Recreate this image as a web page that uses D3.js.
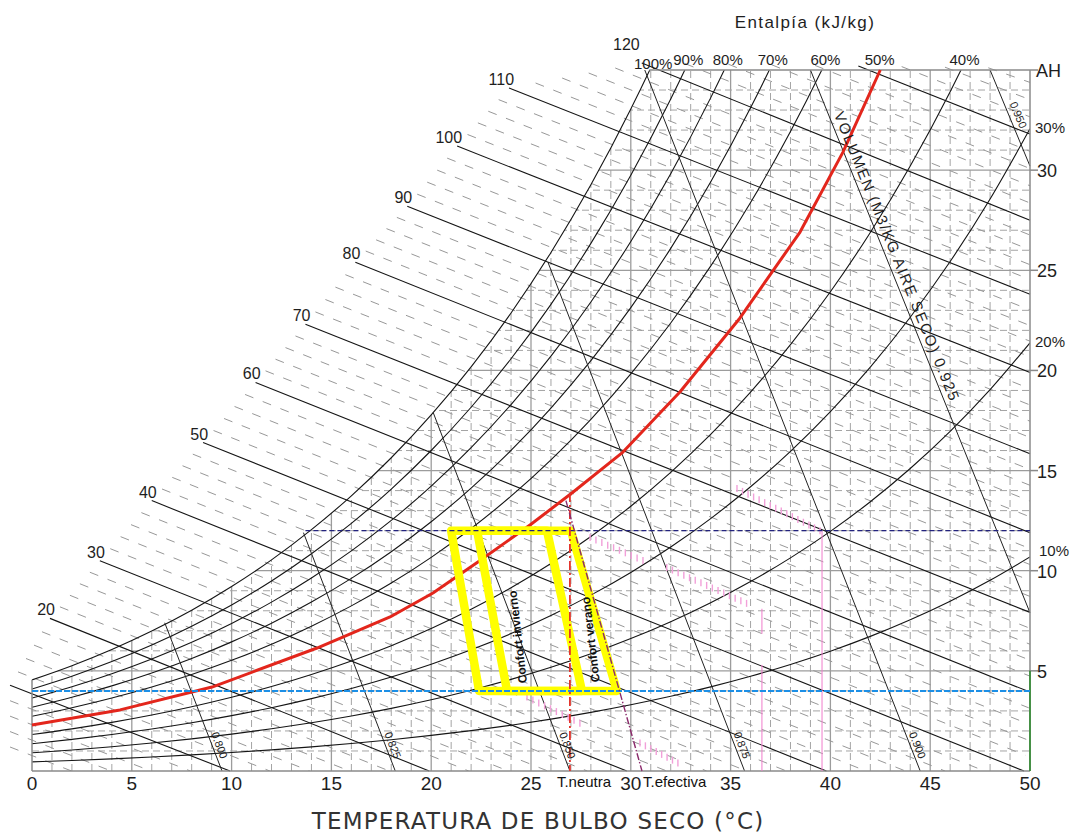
<!DOCTYPE html>
<html lang="es">
<head>
<meta charset="utf-8">
<title>Diagrama psicrométrico</title>
<script src="https://cdn.jsdelivr.net/npm/d3@7/dist/d3.min.js"></script>
<style>
  html,body{margin:0;padding:0;background:#fff;}
  svg{display:block;}
  .cad{font-family:"Liberation Sans",Arial,sans-serif;fill:#1e1e1e;}
</style>
</head>
<body>
<svg id="chart" width="1071" height="833"></svg>
<script>
// ---------- Chart values ----------
// Dry-bulb temperature axis (°C) and absolute humidity axis (g/kg)
const tempTicks = [0, 5, 10, 15, 20, 25, 30, 35, 40, 45, 50];
const ahTicks = [5, 10, 15, 20, 25, 30];

// Saturation absolute humidity (g/kg) along the dry-bulb scale
const satTemps = [0, 2, 4, 6, 8, 10, 12, 14, 16, 18, 20, 22, 24, 26, 28, 30, 32, 34, 36, 38, 40, 42, 44, 46, 48, 50];
const satAH = [4.55, 5.26, 6.07, 6.99, 8.03, 9.21, 10.54, 12.05, 13.74, 15.64, 17.78, 20.18, 22.87, 25.89, 29.27, 33.05, 37.28, 42.01, 47.30, 53.21, 59.82, 67.22, 75.51, 84.79, 95.21, 106.90];

// Relative humidity curves (%); the 50 % curve is drawn by the highlighted trace
const rhLevels = [10, 20, 30, 40, 50, 60, 70, 80, 90, 100];
const rhHighlighted = 50;
const rhTopLabels = [100, 90, 80, 70, 60, 50, 40];
const rhSideLabels = [30, 20, 10];

// Enthalpy lines (kJ/kg): start and end points as [°C, g/kg]
const enthalpyValues = [10, 20, 30, 40, 50, 60, 70, 80, 90, 100, 110, 120, 130];
const enthalpyStart = [[-1.1, 4.28], [0.9, 7.62], [3.4, 10.5], [6.0, 13.5], [8.57, 16.4], [11.2, 19.4], [13.7, 22.3], [16.2, 25.4], [18.8, 28.2], [21.3, 31.2], [23.9, 34.1], [30.55, 35.35], [41.4, 35.2]];
const enthalpyEnd = [[9.92, 0], [19.9, 0], [29.8, 0], [39.8, 0], [49.7, 0], [50, 3.94], [50, 7.92], [50, 11.9], [50, 15.84], [50, 19.9], [50, 23.8], [50, 27.5], [50, 31.8]];
const enthalpyLabels = [20, 30, 40, 50, 60, 70, 80, 90, 100, 110, 120];

// Specific volume lines (m3/kg dry air): top and bottom points as [°C, g/kg]
const volumeLabels = ["0.800", "0.825", "0.850", "0.875", "0.900", "VOLUMEN (M3/KG AIRE SECO) 0.925", "0.950"];
const volumeTop = [[6.65, 7.4], [13.6, 11.9], [20.1, 17.9], [25.85, 25.4], [30.7, 35], [39.0, 35], [48.0, 35]];
const volumeBottom = [[9.52, 0], [18.2, 0], [26.95, 0], [35.7, 0], [44.5, 0], [50, 7.9], [50, 30.2]];

// Highlighted 50 % curve
const rh50Trace = [[0, 2.30], [4.41, 3.05], [9.02, 4.19], [14.28, 6.14], [17.94, 7.69], [20.09, 8.89], [22.34, 10.43], [24.95, 12.28], [27.05, 13.88], [29.56, 15.88], [32.46, 18.92], [35.47, 22.62], [38.48, 26.91], [40.63, 30.9], [42.5, 35.0]];

// Comfort zones (winter and summer)
const winterZone = [[21.0, 12], [25.8, 12], [27.55, 4], [22.4, 4]];
const summerZone = [[22.3, 12], [27.0, 12], [29.3, 4], [23.8, 4]];
const winterLabelAt = [24.8, 4.4];
const summerLabelAt = [28.45, 4.45];

// Humidity limits
const upperLimit = [[13.7, 12], [50, 12]];
const lowerLimit = [[0, 4], [50, 4]];
const greenEdge = [[50, 0], [50, 5]];

// Neutral temperature and effective temperature lines
const neutralLine = [[26.95, 13.88], [26.95, 0]];
const effectiveLine = [[26.75, 13.5], [30.56, 0]];

// Pink hatch traces and verticals
const pinkTraces = [
  [[24.8, 3.69], [27.45, 2.39]],
  [[27.96, 11.66], [30.61, 10.51]],
  [[31.8, 10.16], [35.8, 8.37]],
  [[35.32, 14.1], [39.48, 12.0]],
  [[30.46, 1.4], [32.36, 0.4]]
];
const pinkVerticals = [[[36.57, 8.1], [36.57, 6.85]], [[36.57, 5.3], [36.57, 0]], [[39.58, 12.0], [39.58, 0]]];

// ---------- Scales ----------
const x = d3.scaleLinear().domain([0, 50]).range([32, 1030]);
const y = d3.scaleLinear().domain([0, 35]).range([771, 70]);
const px = d => [x(d[0]), y(d[1])];
const lerp = (a, b, t) => [a[0] + (b[0] - a[0]) * t, a[1] + (b[1] - a[1]) * t];

const svg = d3.select("#chart");
const defs = svg.append("defs");

const satPoints = satTemps.map((t, i) => [t, satAH[i]]);
const smooth = d3.line().x(d => x(d[0])).y(d => y(d[1])).curve(d3.curveMonotoneX);
const straight = d3.line().x(d => x(d[0])).y(d => y(d[1]));

// temperature at which a relative-humidity curve reaches a given humidity
function crossTemp(frac, w) {
  for (let i = 0; i < satTemps.length - 1; i++) {
    const a = frac * satAH[i], b = frac * satAH[i + 1];
    if (a <= w && b >= w) return satTemps[i] + (satTemps[i + 1] - satTemps[i]) * (w - a) / (b - a);
  }
  return 50;
}

// ---------- Clip regions ----------
defs.append("clipPath").attr("id", "plotClip")
  .append("rect").attr("x", x(0)).attr("y", y(35)).attr("width", x(50) - x(0)).attr("height", y(0) - y(35));
defs.append("clipPath").attr("id", "satClip")
  .append("path").attr("d", smooth(satPoints) + `L${x(50)},${y(0)}L${x(0)},${y(0)}Z`);
defs.append("clipPath").attr("id", "dashClip")
  .append("rect").attr("x", 6).attr("y", 58).attr("width", x(50) - 6).attr("height", y(0) - 58);

// ---------- Grid under the saturation curve ----------
const grid = svg.append("g").attr("clip-path", "url(#satClip)");
const plotInner = grid.append("g").attr("clip-path", "url(#plotClip)");
plotInner.selectAll("line.vg").data(d3.range(1, 50)).join("line")
  .attr("x1", d => x(d)).attr("x2", d => x(d)).attr("y1", y(0)).attr("y2", y(35))
  .attr("stroke", d => d % 5 ? "#a4a4a4" : "#9c9c9c")
  .attr("stroke-width", d => d % 5 ? 1 : 1.3)
  .attr("stroke-dasharray", d => d % 5 ? "7,4" : null);
plotInner.selectAll("line.hg").data(d3.range(1, 35)).join("line")
  .attr("x1", x(0)).attr("x2", x(50)).attr("y1", d => y(d)).attr("y2", d => y(d))
  .attr("stroke", d => d % 5 ? "#a4a4a4" : "#9c9c9c")
  .attr("stroke-width", d => d % 5 ? 1 : 1.3)
  .attr("stroke-dasharray", d => d % 5 ? "7,4" : null);

// ---------- Minor enthalpy lines (every 2 kJ/kg) ----------
const minorSegs = d3.range(0, 140, 2).filter(h => h % 10 !== 0).map(h => {
  if (h < 10) {
    const eT = enthalpyEnd[0][0] * h / 10;
    const slope = enthalpyStart[0][1] / (enthalpyEnd[0][0] - enthalpyStart[0][0]);
    return [[enthalpyStart[0][0], slope * (eT - enthalpyStart[0][0])], [eT, 0]];
  }
  const i = Math.min(Math.floor(h / 10) - 1, enthalpyValues.length - 2);
  const t = (h - enthalpyValues[i]) / (enthalpyValues[i + 1] - enthalpyValues[i]);
  return [lerp(enthalpyStart[i], enthalpyStart[i + 1], t), lerp(enthalpyEnd[i], enthalpyEnd[i + 1], t)];
}).filter(s => s[0][0] < s[1][0]);

svg.append("g").attr("clip-path", "url(#dashClip)")
  .selectAll("path").data(minorSegs).join("path")
  .attr("d", straight)
  .attr("fill", "none").attr("stroke", "#989898").attr("stroke-width", 1)
  .attr("stroke-dasharray", "9,10");

// ---------- Relative humidity curves ----------
svg.append("g").attr("clip-path", "url(#plotClip)")
  .selectAll("path").data(rhLevels.filter(rh => rh !== rhHighlighted)).join("path")
  .attr("d", rh => smooth(satPoints.map(p => [p[0], p[1] * rh / 100])))
  .attr("fill", "none").attr("stroke", "#151515").attr("stroke-width", 1.1);

// ---------- Enthalpy lines ----------
svg.append("g").selectAll("path").data(enthalpyValues).join("path")
  .attr("d", (h, i) => straight([enthalpyStart[i], enthalpyEnd[i]]))
  .attr("fill", "none").attr("stroke", "#151515").attr("stroke-width", 1.1);

// ---------- Specific volume lines ----------
svg.append("g").selectAll("path").data(volumeLabels).join("path")
  .attr("d", (v, i) => straight([volumeTop[i], volumeBottom[i]]))
  .attr("fill", "none").attr("stroke", "#222").attr("stroke-width", 1);

// ---------- Frame ----------
const frame = svg.append("g").attr("stroke", "#8a8a8a").attr("stroke-width", 1.5).attr("fill", "none");
const t100 = crossTemp(1, 35);
frame.append("line").attr("x1", x(t100)).attr("x2", x(50)).attr("y1", y(35)).attr("y2", y(35));
frame.append("line").attr("x1", x(50)).attr("x2", x(50)).attr("y1", y(35)).attr("y2", y(0));
frame.append("line").attr("x1", x(0)).attr("x2", x(50)).attr("y1", y(0)).attr("y2", y(0));
frame.append("line").attr("x1", x(0)).attr("x2", x(0)).attr("y1", y(satAH[0])).attr("y2", y(0));
frame.selectAll("line.tick").data(ahTicks.concat([35])).join("line")
  .attr("x1", x(50)).attr("x2", x(50) + 8).attr("y1", d => y(d)).attr("y2", d => y(d));
svg.append("path").attr("d", straight(greenEdge))
  .attr("stroke", "#2e8b2e").attr("stroke-width", 1.6).attr("fill", "none");

// ---------- Pink hatch ----------
const pink = svg.append("g").attr("stroke", "#f2a0d9").attr("stroke-width", 1.4);
pinkTraces.forEach(seg => {
  const a = px(seg[0]), b = px(seg[1]);
  const n = Math.floor(Math.hypot(b[0] - a[0], b[1] - a[1]) / 6);
  d3.range(n + 1).forEach(k => {
    const p = [a[0] + (b[0] - a[0]) * k / n, a[1] + (b[1] - a[1]) * k / n];
    pink.append("line").attr("x1", p[0]).attr("x2", p[0]).attr("y1", p[1] - 3.5).attr("y2", p[1] + 3.5);
  });
});
svg.append("g").selectAll("path").data(pinkVerticals).join("path")
  .attr("d", straight).attr("stroke", "#f07ccc").attr("stroke-width", 1).attr("fill", "none");

// ---------- Highlighted 50 % curve ----------
svg.append("path").attr("d", straight(rh50Trace))
  .attr("fill", "none").attr("stroke", "#e3261c").attr("stroke-width", 3).attr("stroke-linejoin", "round");

// ---------- Comfort zones ----------
svg.append("g").selectAll("path").data([winterZone, summerZone]).join("path")
  .attr("d", z => straight(z) + "Z")
  .attr("fill", "none").attr("stroke", "#ffff00").attr("stroke-width", 8.5).attr("stroke-linejoin", "round");

// ---------- Humidity limits ----------
svg.append("path").attr("d", straight(upperLimit))
  .attr("stroke", "#23237e").attr("stroke-width", 1.3).attr("stroke-dasharray", "5,3").attr("fill", "none");
svg.append("path").attr("d", straight(lowerLimit))
  .attr("stroke", "#1c8fe6").attr("stroke-width", 2).attr("stroke-dasharray", "6,2").attr("fill", "none");

// ---------- Neutral / effective temperature ----------
svg.append("path").attr("d", straight(neutralLine))
  .attr("stroke", "#e4322a").attr("stroke-width", 1.8).attr("stroke-dasharray", "9,3,2,3").attr("fill", "none");
svg.append("path").attr("d", straight(effectiveLine))
  .attr("stroke", "#8b2a6b").attr("stroke-width", 1.4).attr("stroke-dasharray", "7,2,1.5,2").attr("fill", "none");

// ---------- Text ----------
const txt = svg.append("g").attr("class", "cad");

// bottom axis
txt.selectAll("text.bt").data(tempTicks).join("text")
  .attr("x", d => x(d)).attr("y", 790).attr("text-anchor", "middle")
  .attr("font-size", 19).text(d => d);
// right axis
txt.selectAll("text.rt").data(ahTicks).join("text")
  .attr("x", x(50) + 7).attr("y", d => y(d) + 7)
  .attr("font-size", 18).text(d => d);
txt.append("text").attr("x", x(50) + 6).attr("y", y(35) + 7).attr("font-size", 18).text("AH");

// relative humidity labels
txt.selectAll("text.rht").data(rhTopLabels).join("text")
  .attr("x", rh => x(crossTemp(rh / 100, 35)) + (rh === rhHighlighted ? -4 : 4)).attr("y", rh => rh === 100 ? 69 : 65)
  .attr("text-anchor", "middle").attr("font-size", 15).text(rh => rh + "%");
txt.selectAll("text.rhs").data(rhSideLabels).join("text")
  .attr("x", rh => x(50) + (rh === 10 ? 9 : 5))
  .attr("y", rh => y(rh / 100 * satAH[satAH.length - 1]) + (rh === 10 ? -1 : 4))
  .attr("font-size", 15).text(rh => rh + "%");

// enthalpy labels
txt.selectAll("text.hl").data(enthalpyLabels).join("text")
  .attr("x", h => {
    const s = enthalpyStart[enthalpyValues.indexOf(h)];
    return s[1] >= 35 ? x(s[0]) - 2 : x(s[0]) + 5;
  })
  .attr("y", h => {
    const s = enthalpyStart[enthalpyValues.indexOf(h)];
    return s[1] >= 35 ? y(s[1]) - 13 : y(s[1]) - 3;
  })
  .attr("text-anchor", "end").attr("font-size", 16).text(h => h);
txt.append("text").attr("x", 805).attr("y", 28).attr("text-anchor", "middle")
  .attr("font-size", 17).attr("letter-spacing", 1.4).text("Entalpía (kJ/kg)");

// specific volume labels, written along their lines
volumeLabels.forEach((label, i) => {
  const a = px(volumeTop[i]), b = px(volumeBottom[i]);
  const dx = b[0] - a[0], dy = b[1] - a[1], len = Math.hypot(dx, dy);
  const nx = dy / len, ny = -dx / len;
  const ang = Math.atan2(dy, dx) * 180 / Math.PI;
  let f, off, size, ls = 0;
  if (i === 5) { f = 0.085; off = 5; size = 15; ls = 1.6; }
  else if (i === 6) { f = 0.37; off = 5; size = 11; }
  else { f = (volumeTop[i][1] - 1.8) / (volumeTop[i][1] - volumeBottom[i][1]); off = 3; size = 11; }
  const p = [a[0] + dx * f + nx * off, a[1] + dy * f + ny * off];
  txt.append("text").attr("transform", `translate(${p[0]},${p[1]}) rotate(${ang})`)
    .attr("font-size", size).attr("letter-spacing", ls).text(label);
});

// comfort zone labels
const zoneLabel = (at, label, ang) => svg.append("text")
  .attr("transform", `translate(${x(at[0])},${y(at[1])}) rotate(${ang})`)
  .attr("font-family", "Liberation Sans, Arial, sans-serif").attr("font-weight", "bold")
  .attr("font-size", 12).attr("fill", "#111").text(label);
zoneLabel(winterLabelAt, "Confort invierno", -96.5);
zoneLabel(summerLabelAt, "Confort verano", -96.8);

// neutral / effective temperature labels
svg.append("text").attr("x", x(neutralLine[1][0]) - 13).attr("y", 787)
  .attr("font-family", "Liberation Sans, Arial, sans-serif").attr("font-size", 15).attr("fill", "#111").text("T.neutra");
svg.append("text").attr("x", x(effectiveLine[1][0]) + 1).attr("y", 787)
  .attr("font-family", "Liberation Sans, Arial, sans-serif").attr("font-size", 15).attr("fill", "#111").text("T.efectiva");

// axis title
svg.append("text").attr("x", 538).attr("y", 829).attr("text-anchor", "middle")
  .attr("font-family", "DejaVu Sans, sans-serif").attr("font-size", 23).attr("letter-spacing", 1.2).attr("fill", "#333")
  .text("TEMPERATURA DE BULBO SECO (°C)");
</script>
</body>
</html>
